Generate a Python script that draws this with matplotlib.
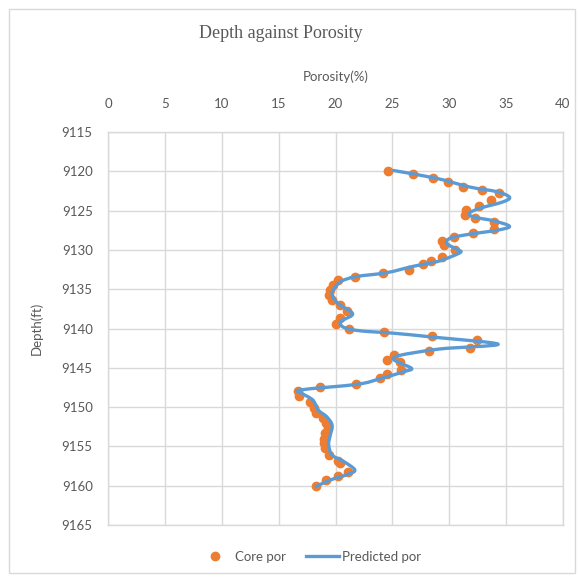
import matplotlib
matplotlib.use("Agg")
import matplotlib.pyplot as plt
from matplotlib.path import Path
from matplotlib.patches import PathPatch, Rectangle
from matplotlib.lines import Line2D
import numpy as np

# ---- data ----
core_depth = [9119.9, 9120.3, 9120.9, 9121.4, 9122.0, 9122.4, 9122.8, 9123.6, 9124.4, 9124.9,
              9125.5, 9126.0, 9126.4, 9127.3, 9127.9, 9128.3, 9128.9, 9129.4, 9130.0, 9130.9,
              9131.4, 9131.8, 9132.5, 9133.0, 9133.4, 9133.8, 9134.5, 9135.1, 9135.7, 9136.4,
              9137.0, 9137.8, 9138.7, 9139.4, 9140.1, 9140.4, 9141.0, 9141.5, 9142.5, 9142.9,
              9143.4, 9144.0, 9144.2, 9145.3, 9145.8, 9146.3, 9147.0, 9147.4, 9148.0, 9148.6,
              9149.3, 9150.1, 9150.8, 9151.4, 9152.0, 9152.7, 9153.3, 9154.0, 9154.6, 9155.2,
              9156.1, 9156.8, 9157.1, 9158.2, 9158.8, 9159.3, 9160.0]
core_por = [24.6, 26.8, 28.6, 29.9, 31.2, 32.9, 34.4, 33.7, 32.6, 31.5,
            31.4, 32.3, 33.9, 33.9, 32.1, 30.4, 29.4, 29.5, 30.5, 29.4,
            28.4, 27.7, 26.5, 24.2, 21.7, 20.2, 19.8, 19.5, 19.4, 19.7,
            20.4, 21.0, 20.4, 20.0, 21.2, 24.3, 28.5, 32.4, 31.8, 28.2,
            25.1, 24.5, 25.7, 25.8, 24.5, 23.9, 21.8, 18.6, 16.7, 16.8,
            17.8, 18.1, 18.3, 18.9, 19.2, 19.3, 19.1, 19.0, 19.0, 19.1,
            19.4, 20.2, 20.4, 21.1, 20.2, 19.2, 18.3]

pred_depth = [9119.9, 9120.9, 9122.0, 9122.6, 9123.3, 9123.9, 9124.7, 9125.3, 9125.8, 9126.3,
              9127.0, 9127.5, 9128.0, 9128.5, 9129.2, 9130.0, 9130.3, 9130.9, 9131.5, 9132.1,
              9132.9, 9133.4, 9134.0, 9134.9, 9135.7, 9136.8, 9138.1, 9138.9, 9139.3, 9139.9,
              9140.3, 9140.6, 9141.1, 9142.0, 9142.6, 9143.4, 9143.9, 9144.4, 9145.1, 9145.5,
              9146.4, 9147.1, 9147.8, 9148.2, 9149.1, 9150.4, 9151.2, 9152.3, 9153.8, 9154.8,
              9156.1, 9156.9, 9158.0, 9158.6, 9159.3, 9160.1]
pred_por = [25.1, 28.9, 31.8, 34.2, 35.3, 34.7, 32.7, 31.8, 32.1, 33.9,
            35.3, 34.2, 31.8, 30.1, 29.8, 30.8, 31.0, 30.1, 28.9, 26.8,
            24.5, 21.8, 20.5, 19.9, 19.7, 20.2, 21.5, 20.7, 20.4, 20.8,
            22.2, 25.1, 28.6, 34.3, 29.2, 25.7, 25.1, 25.7, 26.7, 26.0,
            23.9, 21.9, 17.0, 17.0, 18.0, 18.5, 19.2, 19.7, 19.5, 19.4,
            19.7, 20.7, 21.7, 21.0, 19.5, 18.3]

x_ticks = [0, 5, 10, 15, 20, 25, 30, 35, 40]
y_ticks = [9115, 9120, 9125, 9130, 9135, 9140, 9145, 9150, 9155, 9160, 9165]

ORANGE = "#ED7D31"
BLUE = "#5B9BD5"
GRID = "#D9D9D9"
TXT = "#595959"
SANS = ["Lato", "DejaVu Sans"]

W, H = 579, 578
fig = plt.figure(figsize=(W / 100, H / 100), dpi=100)

# chart border
fig.patches.append(Rectangle((9 / W, 5 / H), 566 / W, 564 / H, transform=fig.transFigure,
                             fill=False, edgecolor=GRID, lw=1))

ax = fig.add_axes([108 / W, 1 - 525 / H, 455 / W, 393 / H])
ax.set_xlim(0, 40)
ax.set_ylim(9165, 9115)
ax.set_xticks(x_ticks)
ax.set_yticks(y_ticks)
ax.xaxis.tick_top()
ax.xaxis.set_label_position("top")
ax.tick_params(length=0, labelsize=9.5, colors=TXT)
ax.tick_params(axis="x", pad=16)
ax.tick_params(axis="y", pad=11)
for lab in ax.get_xticklabels() + ax.get_yticklabels():
    lab.set_family(SANS)
ax.grid(True, color=GRID, lw=1)
ax.set_axisbelow(True)
for s in ax.spines.values():
    s.set_color(GRID)
    s.set_linewidth(1)

ax.set_xlabel("Porosity(%)", fontsize=9.5, color=TXT, family=SANS, labelpad=12)
ax.set_ylabel("Depth(ft)", fontsize=9.5, color=TXT, family=SANS, labelpad=14)

# core points
ax.plot(core_por, core_depth, "o", color=ORANGE, ms=6, mec=ORANGE, zorder=3)

# smoothed predicted line (Catmull-Rom -> cubic Bezier)
P = np.column_stack([pred_por, pred_depth])
verts = [tuple(P[0])]
codes = [Path.MOVETO]
n = len(P)
for i in range(n - 1):
    p0 = P[i - 1] if i > 0 else P[i]
    p1 = P[i]
    p2 = P[i + 1]
    p3 = P[i + 2] if i + 2 < n else P[i + 1]
    c1 = p1 + (p2 - p0) / 6.0
    c2 = p2 - (p3 - p1) / 6.0
    verts += [tuple(c1), tuple(c2), tuple(p2)]
    codes += [Path.CURVE4] * 3
ax.add_patch(PathPatch(Path(verts, codes), fill=False, edgecolor=BLUE, lw=2.4,
                       capstyle="round", joinstyle="round", zorder=4))

fig.text(281 / W, 1 - 33 / H, "Depth against Porosity", ha="center", va="center",
         fontsize=13, color=TXT, family=["Liberation Serif", "DejaVu Serif"])

handles = [Line2D([], [], ls="none", marker="o", color=ORANGE, ms=6),
           Line2D([], [], color=BLUE, lw=2.4)]
leg = fig.legend(handles, ["Core por", "Predicted por"], loc="center",
                 bbox_to_anchor=(310 / W, 1 - 557 / H), ncol=2, frameon=False,
                 prop={"family": SANS, "size": 9.5}, handlelength=2.5,
                 columnspacing=1.5, handletextpad=0.25)
for t in leg.get_texts():
    t.set_color(TXT)

fig.savefig("out.png", dpi=100)
